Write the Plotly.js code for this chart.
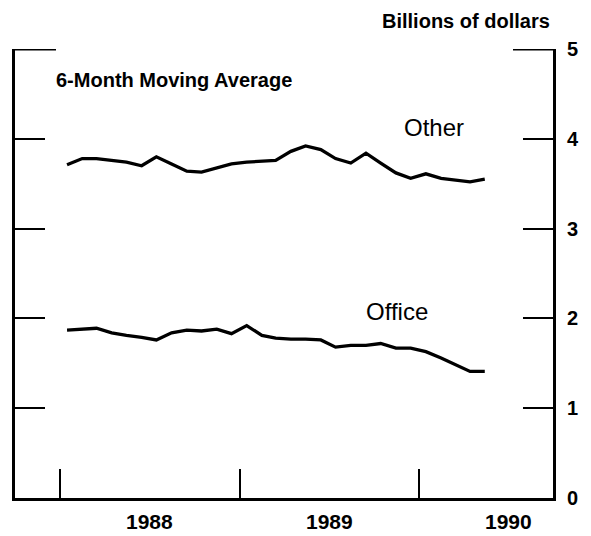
<!DOCTYPE html>
<html>
<head>
<meta charset="utf-8">
<script src="https://cdn.plot.ly/plotly-3.0.1.min.js"></script>
<style>html,body{margin:0;padding:0;background:#fff;}#chart{width:591px;height:536px;}</style>
</head>
<body>
<div id="chart"></div>
<script>
// Monthly observations (mid-month), Jan 1988 - May 1990
var months = [
  "1988-01-15","1988-02-15","1988-03-15","1988-04-15","1988-05-15","1988-06-15",
  "1988-07-15","1988-08-15","1988-09-15","1988-10-15","1988-11-15","1988-12-15",
  "1989-01-15","1989-02-15","1989-03-15","1989-04-15","1989-05-15","1989-06-15",
  "1989-07-15","1989-08-15","1989-09-15","1989-10-15","1989-11-15","1989-12-15",
  "1990-01-15","1990-02-15","1990-03-15","1990-04-15","1990-05-15"
];
// Billions of dollars, 6-month moving average
var other = [
  3.71,3.78,3.78,3.76,3.74,3.70,3.80,3.72,3.64,3.63,
  3.68,3.72,3.74,3.75,3.76,3.86,3.92,3.88,3.78,3.73,
  3.84,3.73,3.62,3.56,3.61,3.56,3.54,3.52,3.55
];
var office = [
  1.87,1.88,1.89,1.84,1.81,1.79,1.76,1.84,1.87,1.86,
  1.88,1.83,1.92,1.81,1.78,1.77,1.77,1.76,1.68,1.70,
  1.70,1.72,1.67,1.67,1.63,1.56,1.49,1.41,1.41
];
var yearTicks = ["1988-01-01","1989-01-01","1990-01-01"];
var yearLabels = ["1988","1989","1990"];
var yearLabelPos = ["1988-07-02","1989-07-02","1990-07-02"];
var yTickVals = [0,1,2,3,4,5];
var yTickText = ["0","1","2","3","4","5"];

var lineStyle = {color:"#000", width:3.3, shape:"linear"};
var traces = [
  {x:months, y:other, type:"scatter", mode:"lines", line:lineStyle, name:"Other", hoverinfo:"skip"},
  {x:months, y:office, type:"scatter", mode:"lines", line:lineStyle, name:"Office", hoverinfo:"skip"}
];

var font = "'Liberation Sans', Arial, Helvetica, sans-serif";
var annotations = [
  {text:"<b>6-Month Moving Average</b>", xref:"paper", yref:"paper", x:0.0725, y:0.931,
   xanchor:"left", yanchor:"middle", showarrow:false, font:{family:font, size:20, color:"#000"}},
  {text:"<b>Billions of dollars</b>", xref:"paper", yref:"paper", x:0.998, y:1.062,
   xanchor:"right", yanchor:"middle", showarrow:false, font:{family:font, size:20, color:"#000"}},
  {text:"Other", xref:"x", yref:"y", x:"1990-02-01", y:4.13,
   xanchor:"center", yanchor:"middle", showarrow:false, font:{family:font, size:24, color:"#000"}},
  {text:"Office", xref:"x", yref:"y", x:"1989-11-17", y:2.08,
   xanchor:"center", yanchor:"middle", showarrow:false, font:{family:font, size:24, color:"#000"}}
];
for (var i = 0; i < yearLabels.length; i++) {
  annotations.push({text:"<b>"+yearLabels[i]+"</b>", xref:"x", yref:"paper", x:yearLabelPos[i], y:-0.053,
    xanchor:"center", yanchor:"middle", showarrow:false, font:{family:font, size:21, color:"#000"}});
}

var layout = {
  width:591, height:536,
  margin:{l:15, r:38, t:49, b:38, pad:0},
  paper_bgcolor:"#fff", plot_bgcolor:"#fff",
  showlegend:false,
  xaxis:{type:"date", range:["1987-10-01","1990-10-01"], showgrid:false, zeroline:false,
    showline:true, linecolor:"#000", linewidth:3, mirror:false,
    ticks:"inside", ticklen:29, tickwidth:2, tickcolor:"#000",
    tickmode:"array", tickvals:yearTicks, showticklabels:false, fixedrange:true},
  yaxis:{range:[0,5], side:"right", showgrid:false, zeroline:false,
    showline:true, linecolor:"#000", linewidth:3, mirror:"ticks",
    ticks:"inside", ticklen:30, tickwidth:2, tickcolor:"#000",
    tickmode:"array", tickvals:yTickVals, ticktext:yTickText, ticklabelstandoff:7,
    tickfont:{family:font, size:20, color:"#000", weight:"bold"}, fixedrange:true},
  shapes:[
    {type:"line", xref:"paper", yref:"y", x0:0, x1:41/538, y0:5, y1:5, line:{color:"#000", width:3}},
    {type:"line", xref:"paper", yref:"y", x0:1-40/538, x1:1, y0:5, y1:5, line:{color:"#000", width:3}}
  ],
  annotations:annotations
};
Plotly.newPlot("chart", traces, layout, {staticPlot:true, displayModeBar:false});
</script>
</body>
</html>
